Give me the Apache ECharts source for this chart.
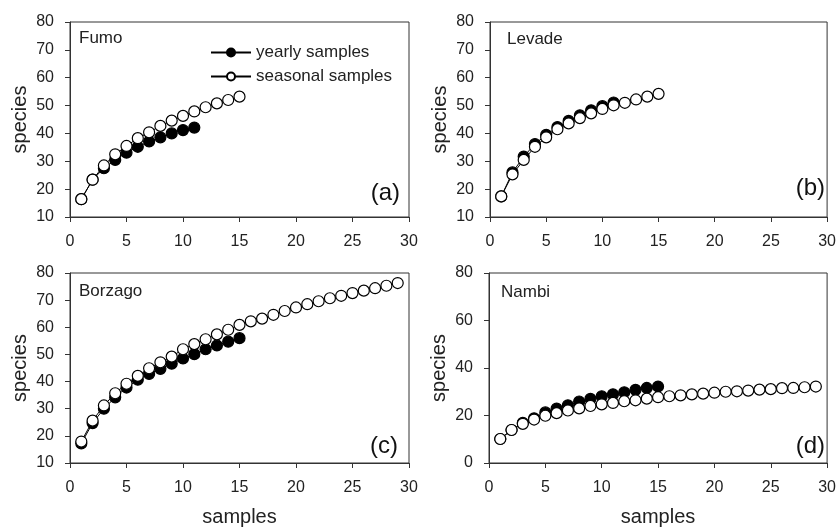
<!DOCTYPE html>
<html>
<head>
<meta charset="utf-8">
<script src="https://cdn.jsdelivr.net/npm/echarts@6/dist/echarts.min.js"></script>
<style>
html,body{margin:0;padding:0;background:#fff;}
#chart{width:839px;height:528px;}
</style>
</head>
<body>
<div id="chart"></div>
<script>
// ---- Data ----
const xTicks = [0, 5, 10, 15, 20, 25, 30];
const panelNames = ["Fumo", "Levade", "Borzago", "Nambi"];
const panelTags = ["(a)", "(b)", "(c)", "(d)"];
const seriesNames = ["yearly samples", "seasonal samples"];

const fumoYearly   = [16.4, 23.4, 27.5, 30.5, 33.1, 35.2, 37.1, 38.6, 40.0, 41.2, 42.1];
const fumoSeasonal = [16.4, 23.4, 28.5, 32.5, 35.5, 38.3, 40.4, 42.7, 44.6, 46.3, 47.9, 49.4, 50.8, 52.0, 53.2];

const levadeYearly   = [17.4, 26.0, 31.7, 36.2, 39.5, 42.3, 44.5, 46.5, 48.3, 49.8, 51.1];
const levadeSeasonal = [17.4, 25.3, 30.5, 35.2, 38.6, 41.5, 43.6, 45.5, 47.2, 48.8, 50.1, 51.0, 52.2, 53.2, 54.2];

const borzagoYearly   = [17.2, 24.7, 30.0, 34.2, 37.8, 40.7, 42.8, 44.7, 46.6, 48.5, 50.1, 51.9, 53.3, 54.7, 56.0];
const borzagoSeasonal = [17.9, 25.6, 31.2, 35.7, 39.2, 42.1, 44.9, 47.1, 49.2, 51.9, 53.8, 55.6, 57.4, 59.1, 60.9,
                         62.2, 63.2, 64.6, 66.0, 67.3, 68.5, 69.6, 70.7, 71.6, 72.6, 73.5, 74.4, 75.3, 76.3];

const nambiYearly   = [10.1, 13.9, 16.9, 18.8, 21.3, 22.9, 24.3, 25.9, 27.0, 28.1, 28.9, 29.8, 30.8, 31.6, 32.2];
const nambiSeasonal = [10.1, 13.9, 16.5, 18.3, 19.9, 21.0, 22.1, 23.0, 24.0, 24.7, 25.3, 26.0, 26.4, 27.1, 27.7,
                       28.1, 28.5, 28.9, 29.2, 29.6, 30.0, 30.2, 30.5, 30.9, 31.1, 31.5, 31.6, 31.9, 32.2];

const yAxes = [
  {min: 10, max: 80, interval: 10},
  {min: 10, max: 80, interval: 10},
  {min: 10, max: 80, interval: 10},
  {min: 0, max: 80, interval: 20}
];
const panelData = [
  [fumoYearly, fumoSeasonal],
  [levadeYearly, levadeSeasonal],
  [borzagoYearly, borzagoSeasonal],
  [nambiYearly, nambiSeasonal]
];

// ---- Layout ----
const grids = [
  {left: 70, top: 22, width: 339, height: 195},
  {left: 490, top: 22, width: 339, height: 195},
  {left: 70, top: 273, width: 339, height: 196},
  {left: 489, top: 273, width: 339, height: 196}
];
const namePos = [[79, 38], [507, 39], [79, 291], [501, 292]];
const tagPos = [[400, 193], [825, 188], [398, 446], [825, 446]];
const font = "'Liberation Sans', Arial, sans-serif";
const axisColor = '#333';
const textColor = '#222';

function pairs(arr) { return arr.map((v, i) => [i + 1, v]); }

const option = {
  animation: false,
  backgroundColor: '#fff',
  textStyle: {fontFamily: font},
  grid: grids.map(g => Object.assign({show: true, borderColor: axisColor, borderWidth: 1, containLabel: false}, g)),
  xAxis: grids.map((g, i) => ({
    type: 'value', gridIndex: i, min: 0, max: 30, interval: 5,
    name: i >= 2 ? 'samples' : '', nameLocation: 'middle', nameGap: 44,
    nameTextStyle: {fontSize: 20, color: textColor, fontFamily: font},
    axisLine: {show: true, onZero: false, lineStyle: {color: axisColor, width: 1}},
    axisTick: {show: true, inside: false, length: 5, lineStyle: {color: axisColor}},
    axisLabel: {fontSize: 16, color: textColor, margin: 17, fontFamily: font},
    splitLine: {show: false}
  })),
  yAxis: grids.map((g, i) => ({
    type: 'value', gridIndex: i, min: yAxes[i].min, max: yAxes[i].max, interval: yAxes[i].interval,
    name: 'species', nameLocation: 'middle', nameGap: 40, nameRotate: 90,
    nameTextStyle: {fontSize: 20, color: textColor, fontFamily: font},
    axisLine: {show: true, onZero: false, lineStyle: {color: axisColor, width: 1}},
    axisTick: {show: true, inside: false, length: 5, lineStyle: {color: axisColor}},
    axisLabel: {fontSize: 16, color: textColor, margin: 16, fontFamily: font},
    splitLine: {show: false}
  })),
  legend: {
    left: 205, top: 39, orient: 'vertical',
    itemWidth: 40, itemHeight: 10, itemGap: 7,
    textStyle: {fontSize: 17, color: textColor, fontFamily: font},
    data: seriesNames
  },
  series: [],
  graphic: []
};

panelData.forEach((pd, i) => {
  option.series.push({
    name: seriesNames[0], type: 'line', xAxisIndex: i, yAxisIndex: i,
    data: pairs(pd[0]), symbol: 'circle', symbolSize: 11,
    lineStyle: {color: '#000', width: 1},
    itemStyle: {color: '#000', borderColor: '#000', borderWidth: 1.2},
    z: 2
  });
  option.series.push({
    name: seriesNames[1], type: 'line', xAxisIndex: i, yAxisIndex: i,
    data: pairs(pd[1]), symbol: 'circle', symbolSize: 11,
    lineStyle: {color: '#000', width: 1},
    itemStyle: {color: '#fff', borderColor: '#000', borderWidth: 1.2},
    z: 3
  });
  option.graphic.push({
    type: 'text', x: namePos[i][0], y: namePos[i][1],
    style: {text: panelNames[i], fontSize: 17, fill: textColor, fontFamily: font, textVerticalAlign: 'middle', verticalAlign: 'middle'}
  });
  option.graphic.push({
    type: 'text', x: tagPos[i][0], y: tagPos[i][1],
    style: {text: panelTags[i], fontSize: 24, fill: '#111', fontFamily: font, textAlign: 'right', align: 'right', textVerticalAlign: 'middle', verticalAlign: 'middle'}
  });
});

const chart = echarts.init(document.getElementById('chart'));
chart.setOption(option);
</script>
</body>
</html>
